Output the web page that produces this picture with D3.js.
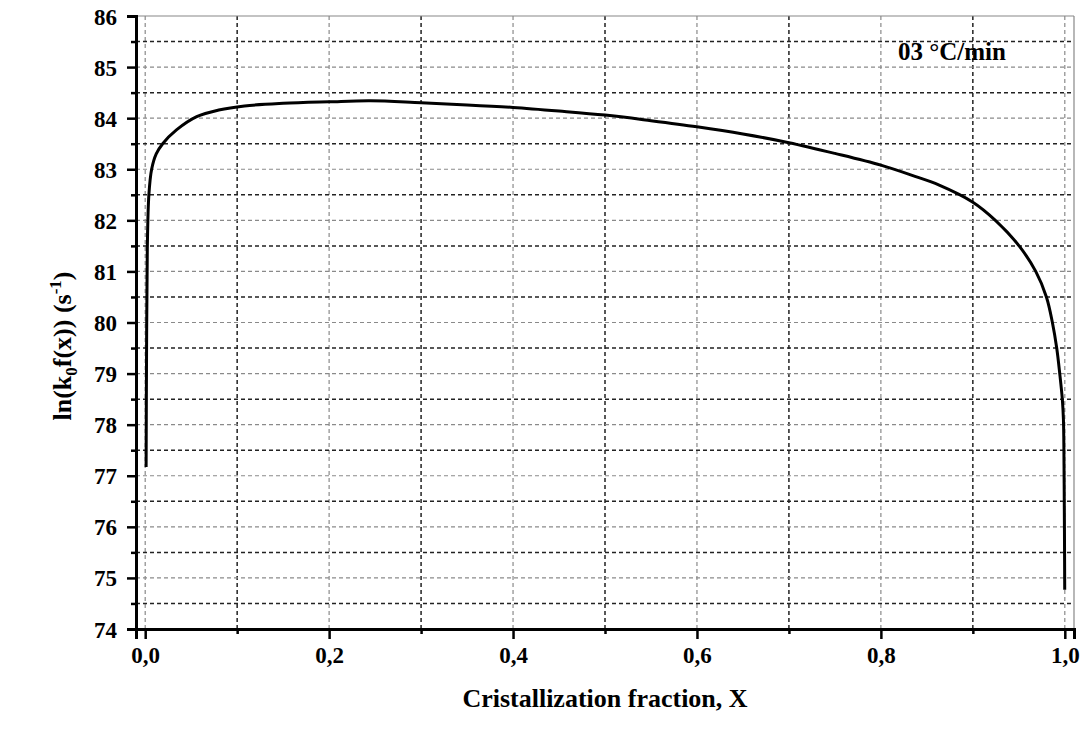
<!DOCTYPE html>
<html>
<head>
<meta charset="utf-8">
<script src="https://cdn.jsdelivr.net/npm/d3@7"></script>
<style>
  html, body { margin: 0; padding: 0; background: #fff; }
  svg { display: block; }
  text { font-family: "Liberation Serif", "Times New Roman", serif; font-weight: bold; fill: #000; }
</style>
</head>
<body>
<svg id="chart" width="1084" height="753"></svg>
<script>
// Crystallization fraction X and ln(k0 f(x))
const fraction = [0.001, 0.0015, 0.0023, 0.004, 0.007, 0.012, 0.019, 0.034, 0.056, 0.08,
  0.108, 0.15, 0.2, 0.245, 0.3, 0.35, 0.4, 0.45, 0.5, 0.55,
  0.6, 0.65, 0.7, 0.75, 0.8, 0.834, 0.8634, 0.8996, 0.9245, 0.9503,
  0.9684, 0.980, 0.9865, 0.9912, 0.9945, 0.9973, 0.9985, 0.9993, 0.9999];
const lnKf = [77.17, 79.5, 81.45, 82.5, 83.0, 83.3, 83.5, 83.77, 84.03, 84.16,
  84.24, 84.29, 84.32, 84.34, 84.30, 84.26, 84.21, 84.14, 84.06, 83.95,
  83.83, 83.69, 83.52, 83.31, 83.08, 82.88, 82.69, 82.36, 82.0, 81.5,
  81.0, 80.5, 80.0, 79.5, 79.0, 78.5, 78.1, 76.86, 74.77];

const xMajorTicks = [0, 0.2, 0.4, 0.6, 0.8, 1.0];
const xMinorTicks = [0.1, 0.3, 0.5, 0.7, 0.9];
const yMajorTicks = [74, 75, 76, 77, 78, 79, 80, 81, 82, 83, 84, 85, 86];
const yMinorTicks = [74.5, 75.5, 76.5, 77.5, 78.5, 79.5, 80.5, 81.5, 82.5, 83.5, 84.5, 85.5];
const rateLabel = "03 °C/min";

const svg = d3.select("#chart");
const plot = { left: 136, right: 1074, top: 16, bottom: 629 };

const x = d3.scaleLinear().domain([-0.01, 1.01]).range([plot.left, plot.right]);
const y = d3.scaleLinear().domain([74, 86]).range([plot.bottom, plot.top]);

const fmt = d => d3.format(".1f")(d).replace(".", ",");

// grid: major lines light grey, minor lines dark
const grid = svg.append("g");
grid.selectAll(".gxM").data(xMajorTicks).join("line")
  .attr("x1", d => x(d)).attr("x2", d => x(d)).attr("y1", plot.top).attr("y2", plot.bottom)
  .attr("stroke", "#8a8a8a").attr("stroke-width", 1.2).attr("stroke-dasharray", "4,3");
grid.selectAll(".gxm").data(xMinorTicks).join("line")
  .attr("x1", d => x(d)).attr("x2", d => x(d)).attr("y1", plot.top).attr("y2", plot.bottom)
  .attr("stroke", "#222").attr("stroke-width", 1.5).attr("stroke-dasharray", "4,3");
grid.selectAll(".gyM").data(yMajorTicks.filter(d => d > 74 && d < 86)).join("line")
  .attr("x1", plot.left).attr("x2", plot.right).attr("y1", d => y(d)).attr("y2", d => y(d))
  .attr("stroke", "#8a8a8a").attr("stroke-width", 1.2).attr("stroke-dasharray", "4,3");
grid.selectAll(".gym").data(yMinorTicks).join("line")
  .attr("x1", plot.left).attr("x2", plot.right).attr("y1", d => y(d)).attr("y2", d => y(d))
  .attr("stroke", "#222").attr("stroke-width", 1.5).attr("stroke-dasharray", "4,3");

// frame top and right
svg.append("line").attr("x1", plot.left).attr("x2", plot.right).attr("y1", plot.top).attr("y2", plot.top)
  .attr("stroke", "#888").attr("stroke-width", 1.2);
svg.append("line").attr("x1", plot.right).attr("x2", plot.right).attr("y1", plot.top).attr("y2", plot.bottom)
  .attr("stroke", "#888").attr("stroke-width", 1.2);

// axes
const xAxis = svg.append("g").attr("transform", `translate(0,${plot.bottom})`)
  .call(d3.axisBottom(x).tickValues(xMajorTicks).tickFormat(fmt).tickSize(10).tickPadding(8));
const xAxisMinor = svg.append("g").attr("transform", `translate(0,${plot.bottom})`)
  .call(d3.axisBottom(x).tickValues(xMinorTicks).tickFormat("").tickSize(5));
const yAxis = svg.append("g").attr("transform", `translate(${plot.left},0)`)
  .call(d3.axisLeft(y).tickValues(yMajorTicks).tickFormat(d3.format("d")).tickSize(9).tickPadding(10));
const yAxisMinor = svg.append("g").attr("transform", `translate(${plot.left},0)`)
  .call(d3.axisLeft(y).tickValues(yMinorTicks).tickFormat("").tickSize(5));

[xAxis, xAxisMinor, yAxis, yAxisMinor].forEach(g => {
  g.select(".domain").attr("stroke", "#000").attr("stroke-width", 3);
  g.selectAll(".tick line").attr("stroke", "#000").attr("stroke-width", 2.5);
  g.selectAll("text").attr("font-family", "'Liberation Serif', serif")
    .attr("font-weight", "bold").attr("font-size", 23).attr("fill", "#000");
});
yAxis.selectAll("text").attr("dy", "0.35em");

// curve (centripetal Catmull-Rom through the read points)
const line = d3.line().x((d, i) => x(fraction[i])).y(d => y(d)).curve(d3.curveCatmullRom.alpha(0.5));
svg.append("path").datum(lnKf).attr("d", line)
  .attr("fill", "none").attr("stroke", "#000").attr("stroke-width", 3)
  .attr("stroke-linejoin", "round").attr("stroke-linecap", "butt");

// heating rate label
svg.append("text").attr("x", 898).attr("y", 60).attr("font-size", 25).text(rateLabel);

// axis titles
svg.append("text").attr("x", (x(0) + x(1)) / 2).attr("y", 707).attr("text-anchor", "middle")
  .attr("font-size", 26).text("Cristallization fraction, X");

const yt = svg.append("text").attr("transform", "translate(71,346) rotate(-90)")
  .attr("text-anchor", "middle").attr("font-size", 26);
yt.append("tspan").text("ln(k");
yt.append("tspan").attr("font-size", 17).attr("dy", 6).text("0");
yt.append("tspan").attr("dy", -6).text("f(x)) (s");
yt.append("tspan").attr("font-size", 17).attr("dy", -10).text("-1");
yt.append("tspan").attr("dy", 10).text(")");
</script>
</body>
</html>
